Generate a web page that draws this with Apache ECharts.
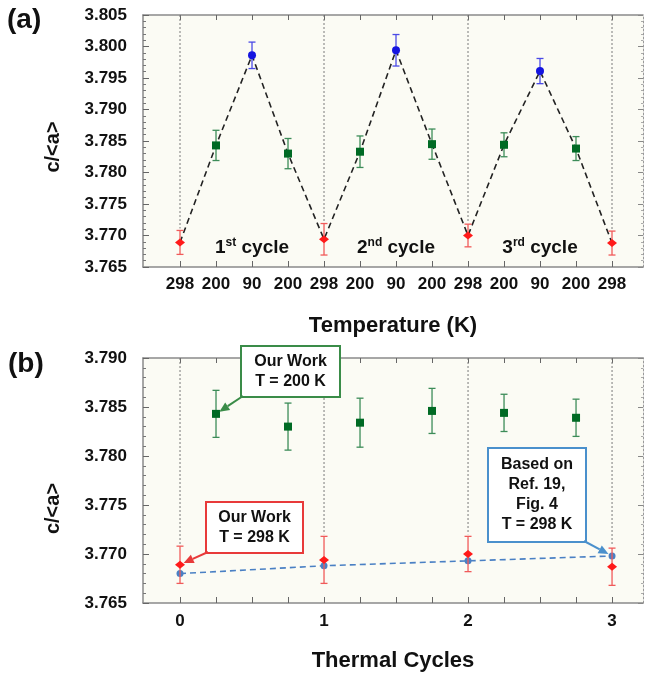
<!DOCTYPE html>
<html><head><meta charset="utf-8">
<script src="https://cdn.jsdelivr.net/npm/echarts@6/dist/echarts.min.js"></script>
<style>html,body{margin:0;padding:0;background:#fff}#c{width:645px;height:673px}</style>
</head><body><div id="c"></div>
<script>
// ---------- Panel (a) data ----------
const tempIndex  = [0,1,2,3,4,5,6,7,8,9,10,11,12];
const tempLabels = ['298','200','90','200','298','200','90','200','298','200','90','200','298'];
const cOverA     = [3.7689,3.7843,3.7986,3.7830,3.7694,3.7833,3.7994,3.7845,3.7700,3.7844,3.7961,3.7838,3.7688];
const cOverAErr  = [0.0019,0.0024,0.0021,0.0024,0.0025,0.0025,0.0025,0.0024,0.0018,0.0019,0.0020,0.0019,0.0019];
const cycleLabels = [['1','st'],['2','nd'],['3','rd']];
const cycleCenters = [2,6,10];

// ---------- Panel (b) data ----------
const cycles       = [0,1,2,3];
const red298       = [3.7689,3.7694,3.7700,3.7687];
const red298Err    = [0.0019,0.0024,0.0018,0.0019];
const greenCycles  = [0.25,0.75,1.25,1.75,2.25,2.75];
const green200     = [3.7843,3.7830,3.7834,3.7846,3.7844,3.7839];
const green200Err  = [0.0024,0.0024,0.0025,0.0023,0.0019,0.0019];
const ref19        = [3.7680,3.7688,3.7693,3.7698];
const cycleTicks   = [0,0.25,0.5,0.75,1,1.25,1.5,1.75,2,2.25,2.5,2.75,3];

const FONT = "'Liberation Sans', Arial, sans-serif";
const RED = '#ff1a1a', RED_E = '#f05a5a';
const GREEN = '#006a24', GREEN_E = '#3c8c58';
const BLUE = '#1414e0', BLUE_E = '#4a4ae6';
const REF = '#4a80c4';
const AX = '#8a8a8a';

const chart = echarts.init(document.getElementById('c'));

function errSeries(xi, yi, xs, ys, es, color, z){
  return {type:'custom', xAxisIndex:xi, yAxisIndex:yi, z:z||3, silent:true,
    data: xs.map((x,i)=>[x, ys[i]-es[i], ys[i]+es[i]]),
    renderItem(params, api){
      const x = api.value(0);
      const lo = api.coord([x, api.value(1)]);
      const hi = api.coord([x, api.value(2)]);
      const w = 3.5, st = {stroke:color, lineWidth:1.3};
      return {type:'group', children:[
        {type:'line', shape:{x1:lo[0],y1:lo[1],x2:hi[0],y2:hi[1]}, style:st},
        {type:'line', shape:{x1:lo[0]-w,y1:lo[1],x2:lo[0]+w,y2:lo[1]}, style:st},
        {type:'line', shape:{x1:hi[0]-w,y1:hi[1],x2:hi[0]+w,y2:hi[1]}, style:st}
      ]};
    }};
}
function guideSeries(xi, yi, xs, tops){
  return {type:'custom', xAxisIndex:xi, yAxisIndex:yi, z:1, silent:true,
    data: xs.map((x,i)=>[x, tops[i]]),
    renderItem(params, api){
      const p = api.coord([api.value(0), api.value(1)]);
      const top = params.coordSys.y;
      return {type:'line', shape:{x1:p[0],y1:top,x2:p[0],y2:p[1]-2},
        style:{stroke:'#7a7a7a', lineWidth:1, lineDash:[2,2]}};
    }};
}

const idxRed = tempIndex.filter(i=>tempLabels[i]==='298');
const idxGreen = tempIndex.filter(i=>tempLabels[i]==='200');
const idxBlue = tempIndex.filter(i=>tempLabels[i]==='90');
const pick = (idx)=>idx.map(i=>[tempIndex[i], cOverA[i]]);

const lblStyle = {fontFamily:FONT, fontWeight:'bold', fontSize:17, color:'#111'};
const nameStyle = {fontFamily:FONT, fontWeight:'bold', fontSize:22, color:'#111'};
const yNameStyle = {fontFamily:FONT, fontWeight:'bold', fontSize:20, color:'#111'};

function yAxes(grid, min, max){
  return [
    {type:'value', gridIndex:grid, min, max, interval:0.005, position:'left',
      name:'c/<a>', nameLocation:'middle', nameRotate:90, nameGap:80,
      nameTextStyle: Object.assign({}, yNameStyle, {padding: grid===0 ? [0,0,0,-12] : [0,0,0,-56]}),
      axisLine:{show:true, onZero:false, lineStyle:{color:AX, width:1.5}},
      axisTick:{show:true, inside:true, length:6, lineStyle:{color:'#666'}},
      minorTick:{show:true, splitNumber:5, length:3, lineStyle:{color:'#777'}},
      axisLabel:Object.assign({formatter:v=>v.toFixed(3), margin:16}, lblStyle),
      splitLine:{show:false}},
    {type:'value', gridIndex:grid, min, max, interval:0.005, position:'right',
      axisLine:{show:true, onZero:false, lineStyle:{color:'#9a9a9a', width:1, type:[2,2]}},
      axisTick:{show:true, inside:true, length:5, lineStyle:{color:'#888'}},
      minorTick:{show:true, splitNumber:5, length:2, lineStyle:{color:'#aaa'}},
      axisLabel:{show:false}, splitLine:{show:false}}
  ];
}

const option = {
  animation:false,
  backgroundColor:'#ffffff',
  grid:[
    {left:143, top:15, width:500, height:252, show:true, backgroundColor:'#fbfbf4', borderWidth:0},
    {left:143, top:358, width:500, height:252, show:true, backgroundColor:'#fbfbf4', borderWidth:0}
  ],
  xAxis:[
    {type:'value', gridIndex:0, min:-1.028, max:12.861, position:'bottom',
      name:'Temperature (K)', nameLocation:'middle', nameGap:48, nameTextStyle:nameStyle,
      axisLine:{show:true, onZero:false, lineStyle:{color:AX, width:1.5}},
      axisTick:{show:true, inside:true, length:6, customValues:tempIndex, lineStyle:{color:'#666'}},
      axisLabel:Object.assign({customValues:tempIndex, formatter:v=>tempLabels[Math.round(v)], margin:9}, lblStyle),
      splitLine:{show:false}},
    {type:'value', gridIndex:0, min:-1.028, max:12.861, position:'top',
      axisLine:{show:true, onZero:false, lineStyle:{color:AX, width:1.5}},
      axisTick:{show:true, inside:true, length:5, customValues:tempIndex, lineStyle:{color:'#666'}},
      axisLabel:{show:false}, splitLine:{show:false}},
    {type:'value', gridIndex:1, min:-0.257, max:3.215, position:'bottom',
      name:'Thermal Cycles', nameLocation:'middle', nameGap:47, nameTextStyle:nameStyle,
      axisLine:{show:true, onZero:false, lineStyle:{color:AX, width:1.5}},
      axisTick:{show:true, inside:true, length:6, customValues:cycleTicks, lineStyle:{color:'#666'}},
      axisLabel:Object.assign({customValues:cycles, formatter:v=>String(Math.round(v)), margin:10}, lblStyle),
      splitLine:{show:false}},
    {type:'value', gridIndex:1, min:-0.257, max:3.215, position:'top',
      axisLine:{show:true, onZero:false, lineStyle:{color:AX, width:1.5}},
      axisTick:{show:true, inside:true, length:5, customValues:cycleTicks, lineStyle:{color:'#666'}},
      axisLabel:{show:false}, splitLine:{show:false}}
  ],
  yAxis:[].concat(yAxes(0, 3.765, 3.805), yAxes(1, 3.765, 3.790)),
  series:[
    // ---- panel (a)
    guideSeries(0, 0, idxRed.map(i=>tempIndex[i]), idxRed.map(i=>cOverA[i]+cOverAErr[i])),
    {type:'line', xAxisIndex:0, yAxisIndex:0, z:2, symbol:'none', silent:true,
      data: tempIndex.map(i=>[i, cOverA[i]]),
      lineStyle:{color:'#222', width:1.6, type:[6,4]}},
    errSeries(0, 0, idxRed.map(i=>tempIndex[i]), idxRed.map(i=>cOverA[i]), idxRed.map(i=>cOverAErr[i]), RED_E),
    errSeries(0, 0, idxGreen.map(i=>tempIndex[i]), idxGreen.map(i=>cOverA[i]), idxGreen.map(i=>cOverAErr[i]), GREEN_E),
    errSeries(0, 0, idxBlue.map(i=>tempIndex[i]), idxBlue.map(i=>cOverA[i]), idxBlue.map(i=>cOverAErr[i]), BLUE_E),
    {type:'scatter', xAxisIndex:0, yAxisIndex:0, z:5, data:pick(idxRed), symbol:'diamond', symbolSize:[10,8], itemStyle:{color:RED, opacity:1}},
    {type:'scatter', xAxisIndex:0, yAxisIndex:0, z:5, data:pick(idxGreen), symbol:'rect', symbolSize:8, itemStyle:{color:GREEN, opacity:1}},
    {type:'scatter', xAxisIndex:0, yAxisIndex:0, z:5, data:pick(idxBlue), symbol:'circle', symbolSize:8, itemStyle:{color:BLUE, opacity:1}},
    {type:'scatter', xAxisIndex:0, yAxisIndex:0, z:6, symbolSize:0, silent:true,
      itemStyle:{opacity:1},
      data: cycleCenters.map((c,k)=>({value:[c, 3.7681], name:k})),
      label:{show:true, position:'inside', color:'#111', opacity:1,
        formatter: p=>'{n|'+cycleLabels[p.data.name][0]+'}{s|'+cycleLabels[p.data.name][1]+'}{n| cycle}',
        rich:{
          n:{fontFamily:FONT, fontWeight:'bold', fontSize:19, color:'#111', lineHeight:22},
          s:{fontFamily:FONT, fontWeight:'bold', fontSize:12, color:'#111', verticalAlign:'top', lineHeight:12}
        }}},
    // ---- panel (b)
    guideSeries(2, 2, cycles, red298.map((v,i)=>v+red298Err[i])),
    {type:'line', xAxisIndex:2, yAxisIndex:2, z:2, symbol:'circle', symbolSize:7, silent:true,
      data: cycles.map((c,i)=>[c, ref19[i]]),
      itemStyle:{color:REF}, lineStyle:{color:REF, width:1.6, type:[6,4]}},
    errSeries(2, 2, cycles, red298, red298Err, RED_E),
    errSeries(2, 2, greenCycles, green200, green200Err, GREEN_E),
    {type:'scatter', xAxisIndex:2, yAxisIndex:2, z:5, data:cycles.map((c,i)=>[c, red298[i]]), symbol:'diamond', symbolSize:[10,8], itemStyle:{color:RED, opacity:1}},
    {type:'scatter', xAxisIndex:2, yAxisIndex:2, z:5, data:greenCycles.map((c,i)=>[c, green200[i]]), symbol:'rect', symbolSize:8, itemStyle:{color:GREEN, opacity:1}}
  ]
};
chart.setOption(option);

// ---------- annotations (boxes + arrows), arrow tips anchored to data points ----------
function arrow(from, toData, gridIdx, color){
  const to = chart.convertToPixel({gridIndex:gridIdx}, toData);
  const dx = to[0]-from[0], dy = to[1]-from[1], L = Math.hypot(dx,dy);
  const ux = dx/L, uy = dy/L;
  const tip = [to[0]-ux*4, to[1]-uy*4];
  const hl = 10, hw = 4.5;
  const base = [tip[0]-ux*hl, tip[1]-uy*hl];
  return [
    {type:'line', z:20, shape:{x1:from[0],y1:from[1],x2:base[0],y2:base[1]}, style:{stroke:color, lineWidth:2}},
    {type:'polygon', z:20, shape:{points:[tip,[base[0]-uy*hw, base[1]+ux*hw],[base[0]+uy*hw, base[1]-ux*hw]]}, style:{fill:color}}
  ];
}
function box(x,y,w,h,color,text){
  return [
    {type:'rect', z:19, shape:{x,y,width:w,height:h}, style:{fill:'#fff', stroke:color, lineWidth:2}},
    {type:'text', z:21, x:x+w/2, y:y+h/2, style:{text, fill:'#111', font:'bold 16px '+FONT, align:'center', verticalAlign:'middle', lineHeight:20}}
  ];
}
const G_BOX = '#3a8c48', R_BOX = '#e83a3a', B_BOX = '#4a90cc';
const elems = [].concat(
  box(241,346,99,51,G_BOX,'Our Work\nT = 200 K'),
  arrow([243,396],[greenCycles[0], green200[0]],1,G_BOX),
  box(206,502,97,51,R_BOX,'Our Work\nT = 298 K'),
  arrow([208,552],[cycles[0], red298[0]],1,R_BOX),
  box(488,448,98,94,B_BOX,'Based on\nRef. 19,\nFig. 4\nT = 298 K'),
  arrow([584,541],[cycles[3], ref19[3]],1,B_BOX),
  [{type:'text', x:7, y:6, style:{text:'(a)', fill:'#111', font:'bold 28px '+FONT}},
   {type:'text', x:8, y:350, style:{text:'(b)', fill:'#111', font:'bold 28px '+FONT}}]
);
chart.setOption({graphic:{elements:elems}});
</script></body></html>
